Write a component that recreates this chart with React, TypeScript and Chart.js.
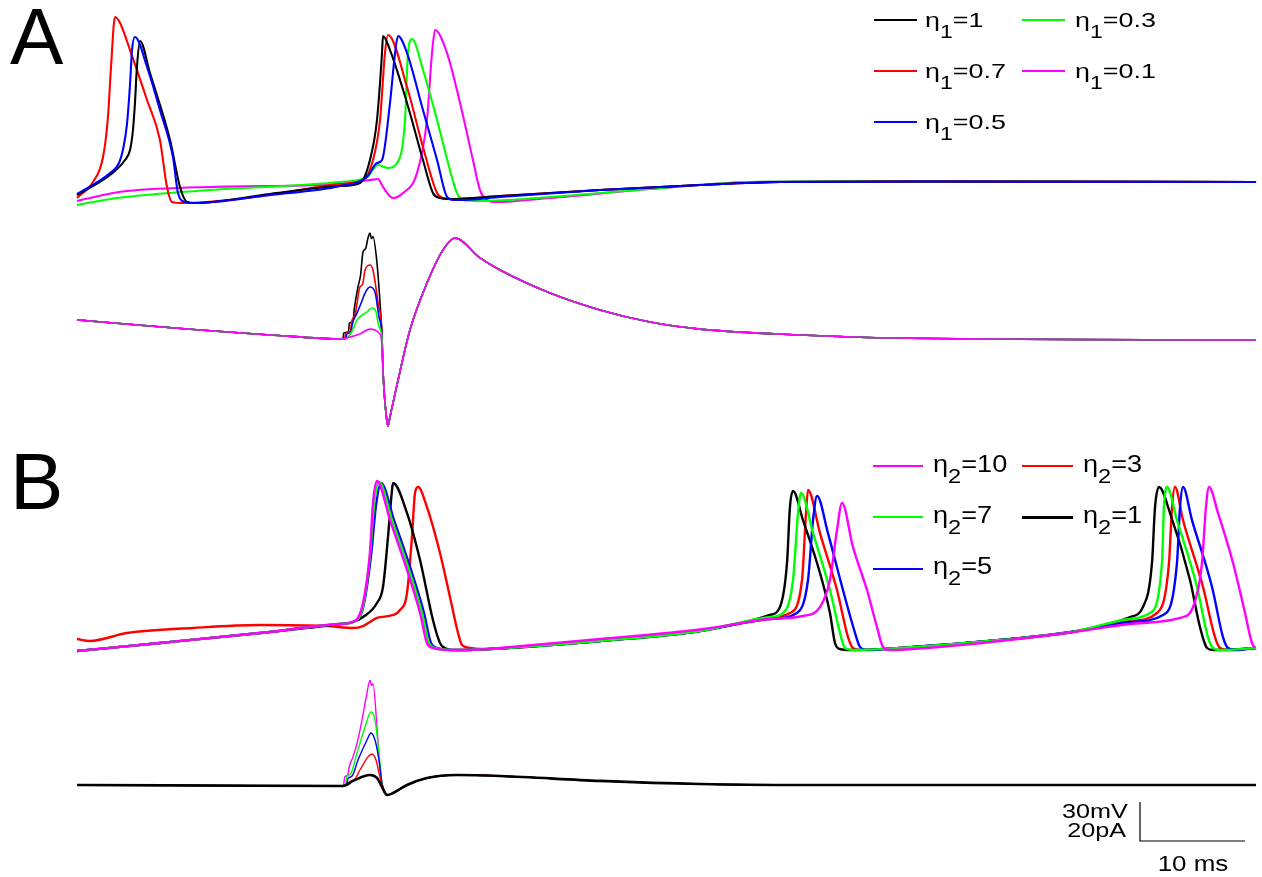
import React, { useEffect, useRef } from 'react';
import { Chart, registerables } from 'chart.js';

Chart.register(...registerables);

type P = [number, number];

// ================= Panel A : membrane potential (t ms, V mV) =================
const A_V_TAIL_FAST: P[] = [[49.81, -66.2], [59.33, -62.3], [66.95, -60.0], [80.0, -59.6], [112.29, -60.0]];
const A_V_TAIL_SLOW: P[] = [[54.57, -65.4], [64.1, -60.0], [73.62, -59.4], [112.29, -60.0]];

const A_V_ETA1_1: P[] = [
  [0, -70.0], [3.14, -54.6], [4.57, -43.1], [5.05, -35.4], [5.33, -20.0], [5.52, 0.8], [5.71, 28.5],
  [6.0, 48.5], [6.95, 23.8], [8.86, -27.7], [9.81, -63.8], [10.48, -75.4], [11.24, -76.2], [18.38, -69.2],
  [25.05, -63.1], [26.95, -60.8], [27.9, -43.1], [28.57, -12.3], [29.05, 39.2], [29.14, 52.3],
  [29.81, 41.5], [31.43, 0.8], [32.95, -43.1], [33.9, -68.5], [34.57, -72.3], [35.52, -73.1],
  [40.29, -70.8],
  ...A_V_TAIL_FAST,
];
const A_V_ETA1_07: P[] = [
  [0, -72.3], [1.52, -60.0], [2.48, -40.8], [2.95, -10.0], [3.24, 28.5], [3.62, 66.9], [4.1, 62.3],
  [5.05, 41.5], [6.67, 3.1], [7.9, -27.7], [8.57, -63.8], [9.05, -75.4], [9.81, -76.2], [18.38, -70.0],
  [25.05, -61.5], [27.24, -58.5], [28.19, -43.1], [28.86, -12.3], [29.33, 39.2], [29.62, 53.1],
  [31.43, 13.1], [32.95, -33.1], [34.29, -68.5], [34.86, -72.3], [36.0, -73.1], [40.29, -70.8],
  ...A_V_TAIL_FAST,
];
const A_V_ETA1_05: P[] = [
  [0, -69.2], [3.14, -53.1], [4.0, -45.4], [4.43, -33.1], [4.76, -15.4], [5.05, 15.0], [5.24, 41.5],
  [5.52, 51.5], [6.67, 28.5], [7.9, -4.6], [9.14, -40.8], [9.62, -68.5], [10.29, -75.4], [10.95, -76.2],
  [18.38, -70.0], [25.05, -63.1], [27.62, -56.2], [28.57, -45.4], [29.05, -43.1], [29.81, 0.8],
  [30.29, 39.2], [30.57, 52.3], [31.43, 39.2], [32.95, -4.6], [34.29, -43.1], [35.24, -71.5],
  [35.81, -73.8], [36.95, -73.8], [40.29, -71.5],
  ...A_V_TAIL_FAST,
];
const A_V_ETA1_03: P[] = [
  [0, -77.7], [3.81, -72.3], [12.67, -66.2], [21.24, -62.3], [25.05, -60.0], [27.62, -56.2],
  [28.67, -46.9], [29.62, -49.2], [30.48, -45.4], [31.24, -12.3], [31.52, 39.2], [31.9, 50.0],
  [32.95, 26.2], [34.29, -12.3], [35.52, -50.8], [36.19, -68.5], [36.76, -73.8], [38.38, -74.6],
  [45.05, -71.5],
  ...A_V_TAIL_SLOW,
];
const A_V_ETA1_01: P[] = [
  [0, -74.6], [3.43, -68.5], [4.76, -66.9], [12.67, -63.8], [25.05, -61.5], [27.9, -58.5],
  [28.67, -57.7], [29.14, -63.8], [30.1, -72.3], [31.05, -68.5], [32.38, -53.1], [33.33, -12.3],
  [33.81, 39.2], [34.1, 56.9], [35.24, 39.2], [36.48, 0.8], [37.71, -43.1], [38.38, -66.2],
  [39.05, -73.8], [39.81, -75.4], [45.05, -72.3],
  ...A_V_TAIL_SLOW,
];

// ================= Panel A : current (t ms, I pA) =================
const A_I_PRE: P[] = [[0, 10.3], [6.95, 7.2], [11.71, 5.1], [18.38, 2.6], [25.33, 0.5]];
const A_I_POST: P[] = [
  [29.14, -15.4], [29.5, -41.0], [29.62, -44.1], [29.81, -39.3], [30.44, -23.9], [31.71, 5.1],
  [33.33, 29.2], [34.86, 46.2], [36.0, 52.3], [38.38, 42.1], [40.29, 35.9], [45.05, 24.1],
  [49.81, 15.4], [54.57, 9.2], [59.33, 5.6], [68.86, 2.6], [78.38, 1.0], [112.29, 0],
];
const A_I_ETA1_1: P[] = [
  [25.4, 3.6], [25.85, 4.1], [25.95, 8.7], [26.3, 9.7], [26.4, 15.4], [26.76, 27.2], [27.0, 33.0],
  [27.24, 45.1], [27.5, 47.0], [27.71, 52.3], [27.9, 54.9], [28.05, 52.0], [28.19, 53.0], [28.57, 39.5],
  [28.86, 19.0], [29.05, 1.5],
];
const A_I_ETA1_07: P[] = [
  [25.5, 0.9], [25.6, 3.8], [26.05, 4.6], [26.15, 9.2], [26.5, 13.3], [26.95, 27.2], [27.2, 28.5],
  [27.43, 35.9], [27.9, 38.5], [28.19, 35.9], [28.67, 19.0], [29.05, 2.6],
];
const A_I_ETA1_05: P[] = [
  [25.6, 1.0], [25.7, 3.1], [26.1, 4.1], [26.2, 7.7], [26.67, 13.8], [27.1, 19.5], [27.43, 24.1],
  [27.9, 27.2], [28.38, 24.6], [28.76, 11.8], [29.05, 1.5],
];
const A_I_ETA1_03: P[] = [
  [25.81, 1.5], [26.3, 5.6], [26.67, 10.3], [27.62, 14.4], [28.1, 16.4], [28.48, 14.4], [28.76, 6.7], [29.05, 1.0],
];
const A_I_ETA1_01: P[] = [
  [26.0, 1.5], [26.95, 3.1], [27.9, 5.6], [28.38, 5.1], [28.76, 3.6], [29.0, 0],
];

// ================= Panel B : membrane potential (t ms, V mV) =================
const B_V_PRE: P[] = [[0, -76.9], [7.9, -70.8], [17.43, -63.1], [25.05, -56.2], [26.29, -54.6]];
const B_V_INTER1: P[] = [[40.29, -75.0], [49.81, -69.2], [59.33, -61.5]];
const B_V_INTER2: P[] = [[78.38, -74.6], [87.9, -68.5], [95.0, -61.9]];
const B_V_END: P[] = [[112.29, -74.6]];

const B_V_ETA2_1: P[] = [
  ...B_V_PRE,
  [27.24, -50.8], [28.57, -40.0], [29.14, -27.7], [29.62, 10.8], [30.0, 46.9], [30.1, 52.3], [31.43, 29.2],
  [32.67, -6.9], [33.9, -53.1], [34.57, -70.8], [34.86, -73.8], [36.0, -76.2], [38.38, -75.8],
  ...B_V_INTER1,
  [66.0, -49.2], [66.95, -43.1], [67.62, -9.2], [67.9, 33.8], [68.19, 46.2], [69.14, 23.8], [70.76, -16.9],
  [71.71, -47.7], [72.19, -70.8], [72.67, -75.4], [73.62, -76.2],
  ...B_V_INTER2,
  [100.29, -50.8], [101.52, -43.1], [102.38, -9.2], [102.67, 33.8], [103.05, 49.2], [104.1, 29.2],
  [106.0, -22.3], [106.95, -58.5], [107.62, -74.6], [108.19, -76.2],
  ...B_V_END,
];
const B_V_ETA2_3: P[] = [
  [0, -67.7], [1.24, -69.2], [4.76, -63.1], [11.05, -59.2], [17.43, -56.9], [23.81, -57.7], [26.29, -59.2],
  [27.24, -57.7], [28.57, -51.5], [30.1, -49.2], [30.76, -45.4], [31.43, -32.3], [31.9, 10.8], [32.19, 44.6],
  [32.48, 49.2], [33.33, 33.8], [34.57, -1.5], [35.52, -35.4], [36.29, -63.1], [36.67, -72.3], [37.43, -74.6],
  [38.38, -75.4],
  ...B_V_INTER1,
  [66.0, -51.5], [67.9, -47.7], [69.05, -22.3], [69.43, 29.2], [69.62, 46.9], [70.76, 13.8], [72.38, -30.0],
  [73.43, -66.2], [73.9, -74.6], [74.76, -76.2],
  ...B_V_INTER2,
  [100.29, -53.8], [102.86, -47.7], [104.0, -9.2], [104.29, 33.8], [104.57, 49.2], [105.33, 23.8],
  [107.24, -27.7], [108.38, -66.2], [108.86, -74.6], [109.62, -76.2],
  ...B_V_END,
];
const B_V_ETA2_5: P[] = [
  ...B_V_PRE,
  [27.24, -43.8], [28.0, -3.8], [28.48, 35.4], [28.95, 52.3], [30.19, 23.8], [31.81, -14.6], [33.05, -47.7],
  [33.71, -70.8], [34.29, -74.6], [36.0, -76.2], [38.38, -75.8],
  ...B_V_INTER1,
  [66.0, -52.3], [68.57, -47.7], [69.62, -22.3], [70.1, 23.8], [70.48, 42.3], [71.52, 13.8], [72.95, -30.0],
  [74.1, -63.1], [74.57, -73.8], [75.33, -76.2],
  ...B_V_INTER2,
  [100.29, -54.6], [103.43, -49.2], [104.76, -9.2], [105.05, 33.8], [105.33, 49.2], [106.19, 23.8],
  [108.1, -27.7], [109.14, -66.2], [109.62, -74.6], [110.38, -76.2],
  ...B_V_END,
];
const B_V_ETA2_7: P[] = [
  ...B_V_PRE,
  [27.24, -42.3], [27.9, -3.8], [28.29, 35.4], [28.76, 53.1], [30.0, 23.8], [31.62, -14.6], [32.86, -47.7],
  [33.52, -70.8], [34.1, -74.6], [36.0, -76.2], [38.38, -75.8],
  ...B_V_INTER1,
  [66.0, -50.8], [67.24, -47.7], [68.19, -22.3], [68.67, 29.2], [68.95, 44.6], [70.1, 13.8], [71.71, -30.0],
  [72.67, -63.1], [73.14, -74.6], [74.1, -76.2],
  ...B_V_INTER2,
  [100.29, -52.3], [102.19, -47.7], [103.33, -9.2], [103.52, 33.8], [103.81, 49.2], [104.76, 23.8],
  [106.67, -27.7], [107.71, -66.2], [108.19, -74.6], [108.86, -76.2],
  ...B_V_END,
];
const B_V_ETA2_10: P[] = [
  ...B_V_PRE,
  [27.24, -40.0], [27.9, -1.5], [28.19, 36.9], [28.57, 53.8], [29.81, 23.8], [31.43, -14.6], [32.67, -47.7],
  [33.33, -70.8], [33.9, -74.6], [35.52, -76.2], [38.38, -75.8], [40.29, -74.6], [49.81, -67.7],
  [59.33, -60.4], [66.0, -52.3], [69.14, -50.0], [70.76, -43.1], [71.71, -22.3], [72.38, 16.2],
  [72.86, 36.9], [73.9, 3.1], [75.24, -30.0], [76.19, -58.5], [76.76, -73.8], [77.43, -76.2],
  [78.38, -76.0], [87.9, -69.2], [95.0, -62.3], [100.29, -56.2], [105.05, -51.5], [106.29, -43.1],
  [107.14, -9.2], [107.52, 33.8], [107.81, 49.2], [108.67, 29.2], [110.1, -9.2], [111.24, -47.7],
  [111.9, -70.8], [112.19, -74.6],
];

// ================= Panel B : current (t ms, I pA) =================
const B_I_PRE: P[] = [[0, 0], [25.33, -0.5]];
const B_I_POST: P[] = [
  [29.52, -5.1], [30.1, -4.1], [31.43, 0], [33.33, 3.6], [36.19, 5.1], [40.29, 4.6], [49.81, 2.1],
  [59.33, 0.5], [68.86, 0], [112.29, 0],
];
const B_I_ETA2_1: P[] = [[26.29, 2.1], [27.9, 5.1], [28.57, 3.6], [29.05, -1.0]];
const B_I_ETA2_3: P[] = [[25.9, 0.3], [26.0, 1.8], [26.4, 2.6], [26.95, 7.7], [27.71, 14.4], [28.1, 15.9], [28.48, 12.8], [28.76, 6.2], [29.05, 0]];
const B_I_ETA2_5: P[] = [[25.7, 0.3], [25.8, 3.1], [26.2, 4.6], [26.76, 12.8], [27.62, 23.1], [28.0, 26.7], [28.38, 23.1], [28.76, 12.8], [29.05, 1.0]];
const B_I_ETA2_7: P[] = [[25.6, 0.5], [25.7, 4.1], [26.05, 5.6], [26.67, 16.4], [27.43, 29.7], [28.0, 37.4], [28.38, 33.3], [28.76, 16.4], [29.05, 1.0]];
const B_I_ETA2_10: P[] = [
  [25.4, 0.3], [25.5, 4.1], [25.8, 5.1], [25.9, 8.7], [26.29, 14.4], [26.7, 22.0], [27.14, 33.3], [27.62, 47.2],
  [27.9, 53.8], [28.05, 51.0], [28.19, 52.0], [28.57, 29.7], [28.86, 7.7], [29.05, 0],
];

// ================= labels =================
const ETA1_VALUES = ['1', '0.7', '0.5', '0.3', '0.1'];
const ETA2_VALUES = ['10', '7', '5', '3', '1'];
const SCALE_TEXT = ['30mV', '20pA', '10 ms'];
const SCALE_BAR_SIZE = { dt: 10, dv: 30 };

const C = { black: '#000000', red: '#ff0000', blue: '#0000ff', green: '#00ff00', magenta: '#ff00ff' };

// layout constants (pixels)
const W = 1262;
const H = 877;
const T0_PX = 77;
const PX_PER_MS = 10.5;
const PX_PER_MV = 1.3;
const PX_PER_PA = 1.95;
const FONT = '"Liberation Sans", Arial, Helvetica, sans-serif';

function yRange(refPx: number, refVal: number, pxPerUnit: number) {
  const max = refVal + refPx / pxPerUnit;
  return { min: max - H / pxPerUnit, max };
}

function ds(data: P[], color: string, width: number, axis: string, smooth = true) {
  return {
    data: data.map(([x, y]) => ({ x, y })),
    borderColor: color,
    backgroundColor: color,
    borderWidth: width,
    yAxisID: axis,
    pointRadius: 0,
    pointHoverRadius: 0,
    fill: false,
    tension: 0,
    cubicInterpolationMode: smooth ? ('monotone' as const) : ('default' as const),
    borderJoinStyle: (smooth ? 'round' : 'miter') as CanvasLineJoin,
    borderCapStyle: 'butt' as const,
  };
}

type TxtProps = {
  x: number; base: number; size: number; sx?: number; align?: 'left' | 'right' | 'center';
  children: React.ReactNode;
};
function Txt({ x, base, size, sx = 1, align = 'left', children }: TxtProps) {
  const style: React.CSSProperties = {
    position: 'absolute',
    top: base - 0.8465 * size,
    fontFamily: FONT,
    fontSize: size,
    lineHeight: `${size}px`,
    whiteSpace: 'nowrap',
    color: '#000',
  };
  if (align === 'left') {
    style.left = x;
    style.transform = `scaleX(${sx})`;
    style.transformOrigin = 'left center';
  } else if (align === 'right') {
    style.right = W - x;
    style.transform = `scaleX(${sx})`;
    style.transformOrigin = 'right center';
  } else {
    style.left = x;
    style.transform = `translateX(-50%) scaleX(${sx})`;
  }
  return <div style={style}>{children}</div>;
}

type LegendItem = { sub: string; value: string; color: string; lineX: number; lineW: number; lineY: number; lineH: number; textX: number; base: number };

function Eta({ sub, value, subSize, subDy }: { sub: string; value: string; subSize: number; subDy: number }) {
  return (
    <>
      η<span style={{ fontSize: subSize, position: 'relative', top: subDy, lineHeight: 0 }}>{sub}</span>={value}
    </>
  );
}

export default function App() {
  const ref = useRef<HTMLCanvasElement | null>(null);

  useEffect(() => {
    if (!ref.current) return;
    const aV = yRange(182, -60, PX_PER_MV);
    const bV = yRange(629, -60, PX_PER_MV);
    const aI = yRange(340, 0, PX_PER_PA);
    const bI = yRange(785, 0, PX_PER_PA);

    const barT = (1140 - T0_PX) / PX_PER_MS;
    const barV = -60 + (629 - 841) / PX_PER_MV;
    const scaleBar: P[] = [
      [barT, barV + SCALE_BAR_SIZE.dv],
      [barT, barV],
      [barT + SCALE_BAR_SIZE.dt, barV],
    ];

    // first entry drawn on top
    const datasets = [
      ds(scaleBar, C.black, 1.2, 'yBV', false),
      // Panel A voltage
      ds(A_V_ETA1_05, C.blue, 2.1, 'yAV'),
      ds(A_V_ETA1_1, C.black, 2.1, 'yAV'),
      ds(A_V_ETA1_07, C.red, 2.1, 'yAV'),
      ds(A_V_ETA1_03, C.green, 2.1, 'yAV'),
      ds(A_V_ETA1_01, C.magenta, 2.1, 'yAV'),
      // Panel A current
      ds([...A_I_PRE, ...A_I_ETA1_01, ...A_I_POST], C.magenta, 1.6, 'yAI'),
      ds([...A_I_PRE, ...A_I_ETA1_03, ...A_I_POST], C.green, 1.6, 'yAI'),
      ds([...A_I_PRE, ...A_I_ETA1_05, ...A_I_POST], C.blue, 1.6, 'yAI'),
      ds([...A_I_PRE, ...A_I_ETA1_07, ...A_I_POST], C.red, 1.6, 'yAI'),
      ds([...A_I_PRE, ...A_I_ETA1_1, ...A_I_POST], C.black, 1.6, 'yAI'),
      // Panel B voltage
      ds(B_V_ETA2_10, C.magenta, 2.4, 'yBV'),
      ds(B_V_ETA2_7, C.green, 2.4, 'yBV'),
      ds(B_V_ETA2_5, C.blue, 2.4, 'yBV'),
      ds(B_V_ETA2_1, C.black, 2.4, 'yBV'),
      ds(B_V_ETA2_3, C.red, 2.4, 'yBV'),
      // Panel B current
      ds([...B_I_PRE, ...B_I_ETA2_1, ...B_I_POST], C.black, 2.6, 'yBI'),
      ds([...B_I_PRE, ...B_I_ETA2_3, ...B_I_POST], C.red, 1.4, 'yBI'),
      ds([...B_I_PRE, ...B_I_ETA2_5, ...B_I_POST], C.blue, 1.4, 'yBI'),
      ds([...B_I_PRE, ...B_I_ETA2_7, ...B_I_POST], C.green, 1.4, 'yBI'),
      ds([...B_I_PRE, ...B_I_ETA2_10, ...B_I_POST], C.magenta, 1.4, 'yBI'),
    ];

    const hidden = (r: { min: number; max: number }) => ({
      type: 'linear' as const, display: false, min: r.min, max: r.max, bounds: 'data' as const,
    });

    const chart = new Chart(ref.current, {
      type: 'line',
      data: { datasets: datasets as any },
      options: {
        animation: false,
        responsive: false,
        maintainAspectRatio: false,
        events: [],
        layout: { padding: 0 },
        plugins: { legend: { display: false }, tooltip: { enabled: false }, title: { display: false } },
        scales: {
          x: { type: 'linear', display: false, min: -T0_PX / PX_PER_MS, max: (W - T0_PX) / PX_PER_MS, bounds: 'data' },
          yAV: hidden(aV),
          yAI: hidden(aI),
          yBV: hidden(bV),
          yBI: hidden(bI),
        },
      } as any,
    });
    return () => chart.destroy();
  }, []);

  const legendA: LegendItem[] = [
    { sub: '1', value: ETA1_VALUES[0], color: C.black, lineX: 874, lineW: 43, lineY: 20, lineH: 1.5, textX: 925, base: 27 },
    { sub: '1', value: ETA1_VALUES[1], color: C.red, lineX: 874, lineW: 43, lineY: 71, lineH: 1.5, textX: 925, base: 78 },
    { sub: '1', value: ETA1_VALUES[2], color: C.blue, lineX: 874, lineW: 43, lineY: 122, lineH: 1.5, textX: 925, base: 129 },
    { sub: '1', value: ETA1_VALUES[3], color: C.green, lineX: 1022, lineW: 43, lineY: 20, lineH: 1.5, textX: 1075, base: 27 },
    { sub: '1', value: ETA1_VALUES[4], color: C.magenta, lineX: 1022, lineW: 43, lineY: 71, lineH: 1.5, textX: 1075, base: 78 },
  ];
  const legendB: LegendItem[] = [
    { sub: '2', value: ETA2_VALUES[0], color: C.magenta, lineX: 873, lineW: 50, lineY: 466, lineH: 1.5, textX: 933, base: 472 },
    { sub: '2', value: ETA2_VALUES[1], color: C.green, lineX: 873, lineW: 50, lineY: 517, lineH: 1.5, textX: 933, base: 523 },
    { sub: '2', value: ETA2_VALUES[2], color: C.blue, lineX: 873, lineW: 50, lineY: 569, lineH: 1.5, textX: 933, base: 574 },
    { sub: '2', value: ETA2_VALUES[3], color: C.red, lineX: 1022, lineW: 51, lineY: 466, lineH: 1.5, textX: 1083, base: 472 },
    { sub: '2', value: ETA2_VALUES[4], color: C.black, lineX: 1022, lineW: 51, lineY: 517, lineH: 3, textX: 1083, base: 523 },
  ];

  return (
    <div style={{ position: 'absolute', left: 0, top: 0, width: W, height: H, background: '#fff', overflow: 'hidden' }}>
      <canvas ref={ref} width={W} height={H} style={{ position: 'absolute', left: 0, top: 0, width: W, height: H, display: 'block' }} />
      <Txt x={10} base={65} size={80}>A</Txt>
      <Txt x={10} base={510} size={80}>B</Txt>
      {legendA.map((it, i) => (
        <React.Fragment key={'a' + i}>
          <div style={{ position: 'absolute', left: it.lineX, top: it.lineY - it.lineH / 2, width: it.lineW, height: it.lineH, background: it.color }} />
          <Txt x={it.textX} base={it.base} size={21} sx={1.28}>
            <Eta sub={it.sub} value={it.value} subSize={18} subDy={11} />
          </Txt>
        </React.Fragment>
      ))}
      {legendB.map((it, i) => (
        <React.Fragment key={'b' + i}>
          <div style={{ position: 'absolute', left: it.lineX, top: it.lineY - it.lineH / 2, width: it.lineW, height: it.lineH, background: it.color }} />
          <Txt x={it.textX} base={it.base} size={23} sx={1.18}>
            <Eta sub={it.sub} value={it.value} subSize={20} subDy={11} />
          </Txt>
        </React.Fragment>
      ))}
      <Txt x={1128} base={818} size={21} sx={1.2} align="right">{SCALE_TEXT[0]}</Txt>
      <Txt x={1126} base={837} size={21} sx={1.2} align="right">{SCALE_TEXT[1]}</Txt>
      <Txt x={1192.5} base={872} size={22} sx={1.18} align="center">{SCALE_TEXT[2]}</Txt>
    </div>
  );
}
